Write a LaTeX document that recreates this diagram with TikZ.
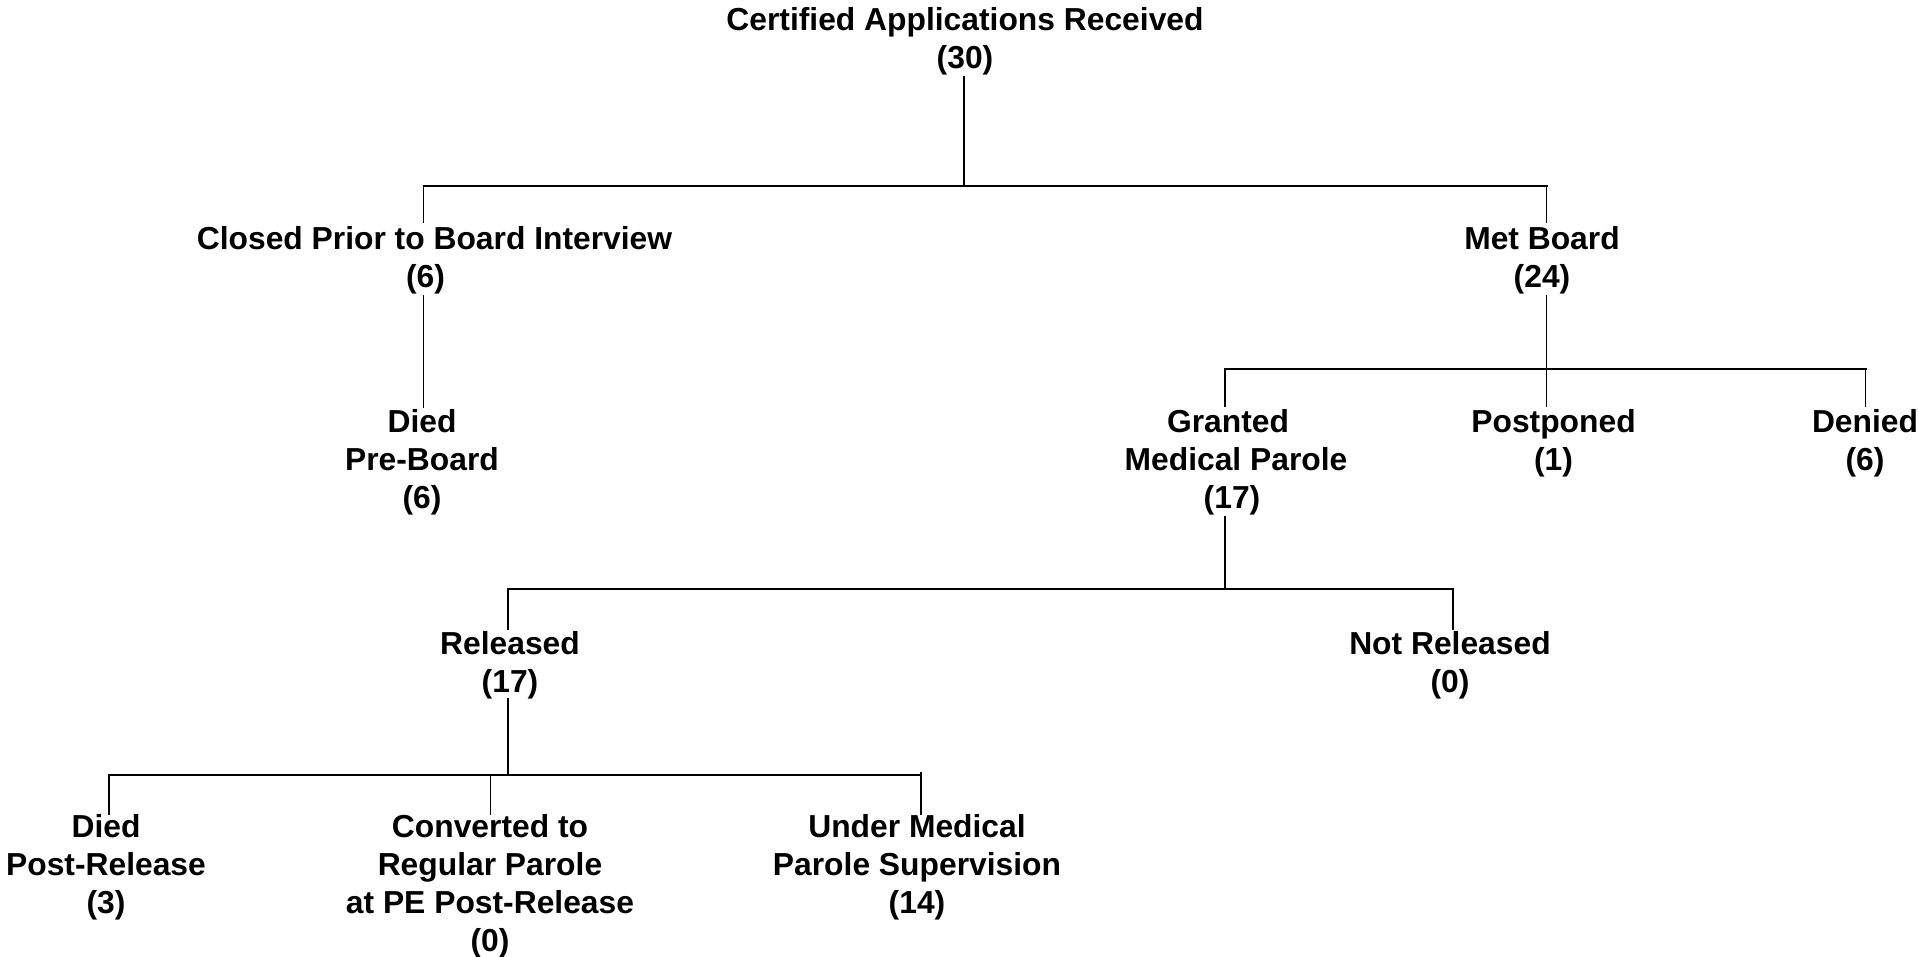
\documentclass[tikz,border=0pt]{standalone}
\usepackage{fontspec}
\setmainfont{Liberation Sans}
\newcommand{\Lh}{\rule{0pt}{25pt}}
\tikzset{
  lbl/.style={anchor=north, align=center, inner sep=0pt, outer sep=0pt,
    font=\fontsize{31.8pt}{38.3pt}\selectfont\bfseries},
  stem/.style={line width=1.4pt},
  barline/.style={line width=2pt, line cap=rect},
}
\begin{document}
\begin{tikzpicture}[x=1pt,y=-1pt]
\fill[white] (0,0) rectangle (1919,956);
\useasboundingbox (0,0) rectangle (1919,956);

% nodes
\node[lbl] (root) at (965,5.5) {\Lh Certified Applications Received\\(30)};
\node[lbl] (closed) at (430,224) {\Lh\hspace*{9pt}Closed Prior to Board Interview\\(6)\hspace*{9pt}};
\node[lbl] (met) at (1542,224) {\Lh Met Board\\(24)};
\node[lbl] (diedpre) at (422,407) {\Lh Died\\Pre-Board\\(6)};
\node[lbl] (granted) at (1232,407) {\Lh Granted\hspace*{8pt}\\\hspace*{8pt}Medical Parole\\(17)};
\node[lbl] (postponed) at (1553.5,407) {\Lh Postponed\\(1)};
\node[lbl] (denied) at (1865,407) {\Lh Denied\\(6)};
\node[lbl] (released) at (510,629) {\Lh Released\\(17)};
\node[lbl] (notreleased) at (1450,629) {\Lh Not Released\\(0)};
\node[lbl] (diedpost) at (106,812) {\Lh Died\\Post-Release\\(3)};
\node[lbl] (converted) at (490,812) {\Lh Converted to\\Regular Parole\\at PE Post-Release\\(0)};
\node[lbl] (under) at (917,812) {\Lh Under Medical\\Parole Supervision\\(14)};

% connector points
\coordinate (root-out) at (964,76);
\coordinate (j0) at (964,185.5);
\coordinate (j0l) at (423.6,185.5);
\coordinate (j0r) at (1546.6,185.5);
\coordinate (closed-in) at (423.6,223);
\coordinate (met-in) at (1546.6,223);
\coordinate (closed-out) at (423.6,295);
\coordinate (diedpre-in) at (423.6,408);
\coordinate (met-out) at (1546.6,295);
\coordinate (postponed-in) at (1546.6,407);
\coordinate (j1l) at (1225,369.3);
\coordinate (j1r) at (1865.5,369.3);
\coordinate (granted-in) at (1225,407);
\coordinate (denied-in) at (1865.5,407);
\coordinate (granted-out) at (1225,516);
\coordinate (j2) at (1225,589.3);
\coordinate (j2l) at (508,589.3);
\coordinate (j2r) at (1453,589.3);
\coordinate (released-in) at (508,630);
\coordinate (notreleased-in) at (1453,630);
\coordinate (released-out) at (508,698.3);
\coordinate (j3) at (508,775);
\coordinate (j3l) at (109,775);
\coordinate (j3m) at (490.4,775);
\coordinate (j3r) at (921,775);
\coordinate (j3rt) at (921,772);
\coordinate (diedpost-in) at (109,815);
\coordinate (converted-in) at (490.4,815);
\coordinate (under-in) at (921,815);

% connectors
\draw[stem] (root-out) -- (j0);
\draw[barline] (j0l) -- (j0r);
\draw[stem] (j0l) -- (closed-in);
\draw[stem] (j0r) -- (met-in);
\draw[stem] (closed-out) -- (diedpre-in);
\draw[stem] (met-out) -- (postponed-in);
\draw[barline] (j1l) -- (j1r);
\draw[stem] (j1l) -- (granted-in);
\draw[stem] (j1r) -- (denied-in);
\draw[stem] (granted-out) -- (j2);
\draw[barline] (j2l) -- (j2r);
\draw[stem] (j2l) -- (released-in);
\draw[stem] (j2r) -- (notreleased-in);
\draw[stem] (released-out) -- (j3);
\draw[barline] (j3l) -- (j3r);
\draw[stem] (j3l) -- (diedpost-in);
\draw[stem] (j3m) -- (converted-in);
\draw[stem] (j3rt) -- (under-in);
\end{tikzpicture}
\end{document}
